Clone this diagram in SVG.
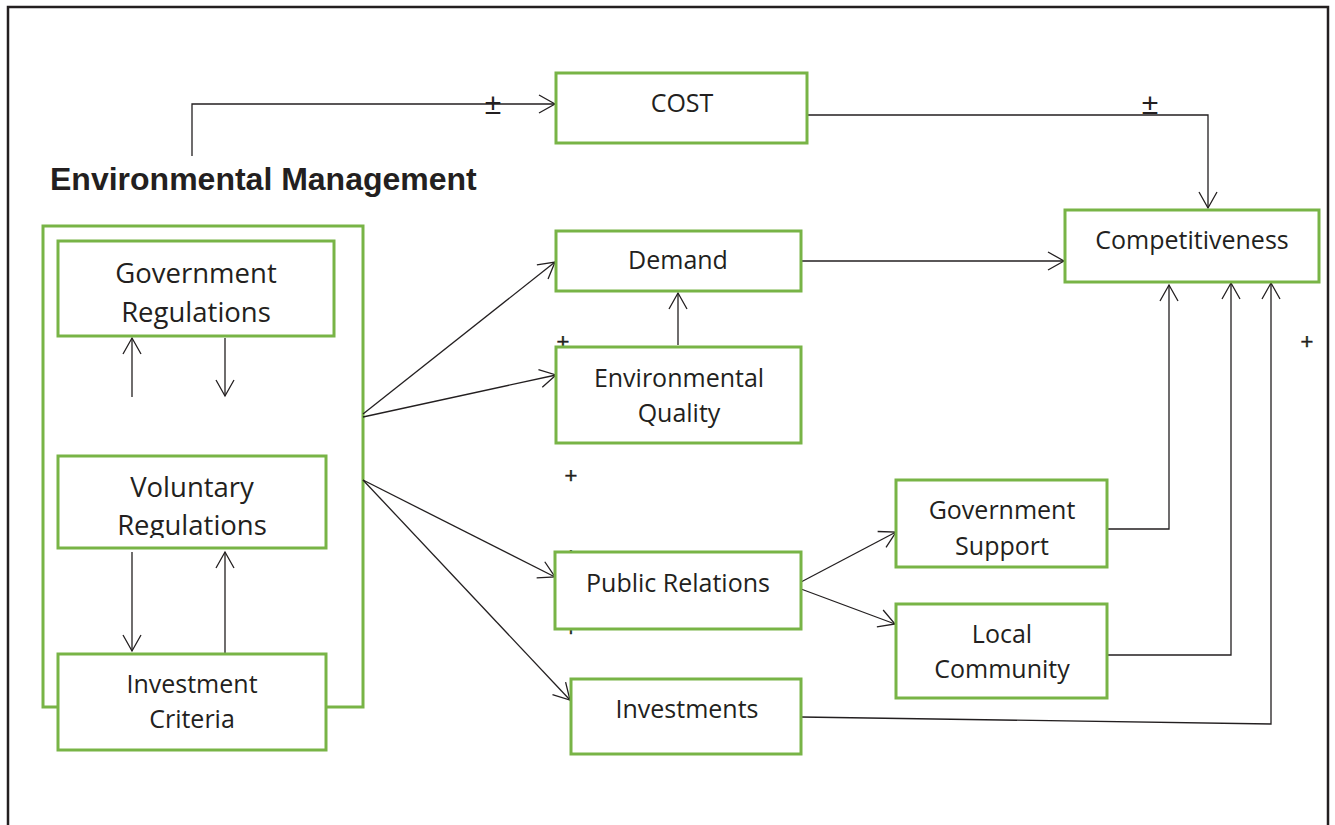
<svg xmlns="http://www.w3.org/2000/svg" width="1335" height="825" viewBox="0 0 1335 825">
<style>
.box{fill:#fff;stroke:#78b446;stroke-width:3}
.lbl{font-family:"Open Sans","Noto Sans",sans-serif;font-size:25px;fill:#231f20;text-anchor:middle}
.big{font-size:27.5px}
.cn{fill:none;stroke:#231f20;stroke-width:1.3}
.arr{marker-end:url(#ah)}
.sign{font-family:"Liberation Sans",Arial,sans-serif;fill:#231f20;text-anchor:middle}
.plus{font-size:22px;stroke:#231f20;stroke-width:0.4}
</style>
<defs>
<marker id="ah" markerUnits="userSpaceOnUse" viewBox="-18 -11 20 22" refX="0" refY="0" markerWidth="20" markerHeight="22" orient="auto">
<path d="M-16,-9 L0,0 L-16,9" fill="none" stroke="#231f20" stroke-width="1.3"/>
</marker>
<clipPath id="vclip"><rect x="58" y="456" width="268" height="82"/></clipPath>
</defs>
<rect width="1335" height="825" fill="#fff"/>
<rect x="8" y="7" width="1320" height="830" fill="none" stroke="#231f20" stroke-width="2.5"/>

<text x="50" y="190" font-family="'Liberation Sans',Arial,sans-serif" font-weight="bold" font-size="32" fill="#231f20">Environmental Management</text>

<g id="em-container">
<rect class="box" x="43" y="226" width="320" height="481"/>
</g>

<g id="connectors">
<polyline class="cn arr" points="192,156 192,104 555,104"/>
<polyline class="cn arr" points="808,115 1208,115 1208,208"/>
<line class="cn arr" x1="801" y1="261" x2="1064" y2="261"/>
<line class="cn arr" x1="678" y1="345" x2="678" y2="293"/>
<line class="cn arr" x1="363" y1="414" x2="555" y2="262"/>
<line class="cn arr" x1="363" y1="417" x2="556" y2="375"/>
<line class="cn arr" x1="363" y1="480" x2="555" y2="577"/>
<line class="cn arr" x1="363" y1="480" x2="570" y2="700"/>
<line class="cn arr" x1="801" y1="582" x2="896" y2="532"/>
<line class="cn arr" x1="801" y1="589" x2="895" y2="624"/>
<polyline class="cn arr" points="1107,529 1169,529 1169,285"/>
<polyline class="cn arr" points="1107,655 1231,655 1231,283"/>
<polyline class="cn arr" points="801,717 1271,724 1271,283"/>
<line class="cn arr" x1="132" y1="397" x2="132" y2="338"/>
<line class="cn arr" x1="225" y1="338" x2="225" y2="396"/>
<line class="cn arr" x1="132" y1="552" x2="132" y2="651"/>
<line class="cn arr" x1="225" y1="654" x2="225" y2="552"/>
</g>

<g id="signs">
<text class="sign" x="493" y="114" font-size="30">±</text>
<text class="sign" x="1150" y="114" font-size="30">±</text>
<text class="sign plus" x="563" y="349">+</text>
<text class="sign plus" x="571" y="483">+</text>
<text class="sign plus" x="1307" y="349">+</text>
<text class="sign plus" x="571" y="563">+</text>
<text class="sign plus" x="571" y="636">+</text>
</g>

<g id="cost">
<rect class="box" x="556" y="73" width="251" height="70"/>
<text class="lbl" x="682" y="112">COST</text>
</g>
<g id="competitiveness">
<rect class="box" x="1065" y="210" width="254" height="72"/>
<text class="lbl" x="1192" y="249">Competitiveness</text>
</g>
<g id="demand">
<rect class="box" x="556" y="231" width="245" height="60"/>
<text class="lbl" x="678" y="269">Demand</text>
</g>
<g id="environmental-quality">
<rect class="box" x="556" y="347" width="245" height="96"/>
<text class="lbl" x="679" y="387">Environmental</text>
<text class="lbl" x="679" y="422">Quality</text>
</g>
<g id="public-relations">
<rect class="box" x="555" y="552" width="246" height="77"/>
<text class="lbl" x="678" y="592">Public Relations</text>
</g>
<g id="investments">
<rect class="box" x="571" y="679" width="230" height="75"/>
<text class="lbl" x="687" y="718">Investments</text>
</g>
<g id="government-support">
<rect class="box" x="896" y="480" width="211" height="87"/>
<text class="lbl" x="1002" y="519">Government</text>
<text class="lbl" x="1002" y="555">Support</text>
</g>
<g id="local-community">
<rect class="box" x="896" y="604" width="211" height="94"/>
<text class="lbl" x="1002" y="643">Local</text>
<text class="lbl" x="1002" y="678">Community</text>
</g>
<g id="government-regulations">
<rect class="box" x="58" y="241" width="276" height="95"/>
<text class="lbl big" x="196" y="283">Government</text>
<text class="lbl big" x="196" y="322">Regulations</text>
</g>
<g id="voluntary-regulations">
<rect class="box" x="58" y="456" width="268" height="92"/>
<g clip-path="url(#vclip)">
<text class="lbl big" x="192" y="497">Voluntary</text>
<text class="lbl big" x="192" y="535">Regulations</text>
</g>
</g>
<g id="investment-criteria">
<rect class="box" x="58" y="654" width="268" height="96"/>
<text class="lbl" x="192" y="693">Investment</text>
<text class="lbl" x="192" y="728">Criteria</text>
</g>
</svg>
